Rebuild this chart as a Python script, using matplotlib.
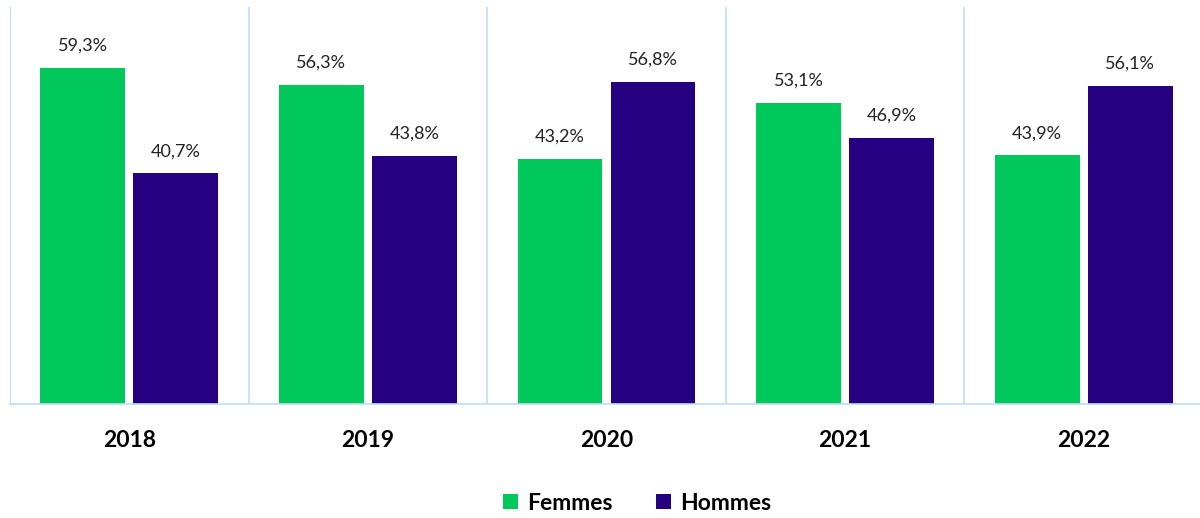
import matplotlib.pyplot as plt
import numpy as np

years = ['2018', '2019', '2020', '2021', '2022']
femmes = [59.3, 56.3, 43.2, 53.1, 43.9]
hommes = [40.7, 43.8, 56.8, 46.9, 56.1]

green = '#00C85A'
purple = '#250080'
line_col = '#BFDCFA'

plt.rcParams['font.family'] = ['Lato', 'DejaVu Sans']

fig = plt.figure(figsize=(12, 5.18), dpi=100)
ax = fig.add_axes([10/1200, 1 - 404/518, 1193/1200, 397/518])

x = np.arange(len(years))
w = 0.356
off = 0.195
b1 = ax.bar(x - off, femmes, w, color=green, label='Femmes')
b2 = ax.bar(x + off, hommes, w, color=purple, label='Hommes')

for bars, vals in ((b1, femmes), (b2, hommes)):
    for b, v in zip(bars, vals):
        ax.annotate(f'{v:.1f}%'.replace('.', ','), (b.get_x() + b.get_width()/2, v),
                    xytext=(0, 10), textcoords='offset points',
                    ha='center', va='bottom', fontsize=13, color='#222222')

ax.set_xlim(-0.5, len(years) - 0.5)
ax.set_ylim(0, 70)
for i in range(len(years)):
    ax.axvline(i - 0.5, color=line_col, lw=1.2, zorder=0)

for s in ['top', 'right']:
    ax.spines[s].set_visible(False)
ax.spines['left'].set_color(line_col)
ax.spines['bottom'].set_color(line_col)
ax.spines['bottom'].set_linewidth(1.2)
ax.set_yticks([])
ax.set_xticks(x)
ax.set_xticklabels(years, fontsize=16.5, fontweight='bold')
ax.tick_params(axis='x', length=0, pad=19)

fig.legend(loc='center', bbox_to_anchor=(0.531, 1 - 503/518), ncol=2, frameon=False,
           prop={'size': 16.5, 'weight': 'bold'}, handlelength=0.65, handleheight=0.65,
           handletextpad=0.4, columnspacing=1.9)

fig.savefig('out.png', dpi=100)
